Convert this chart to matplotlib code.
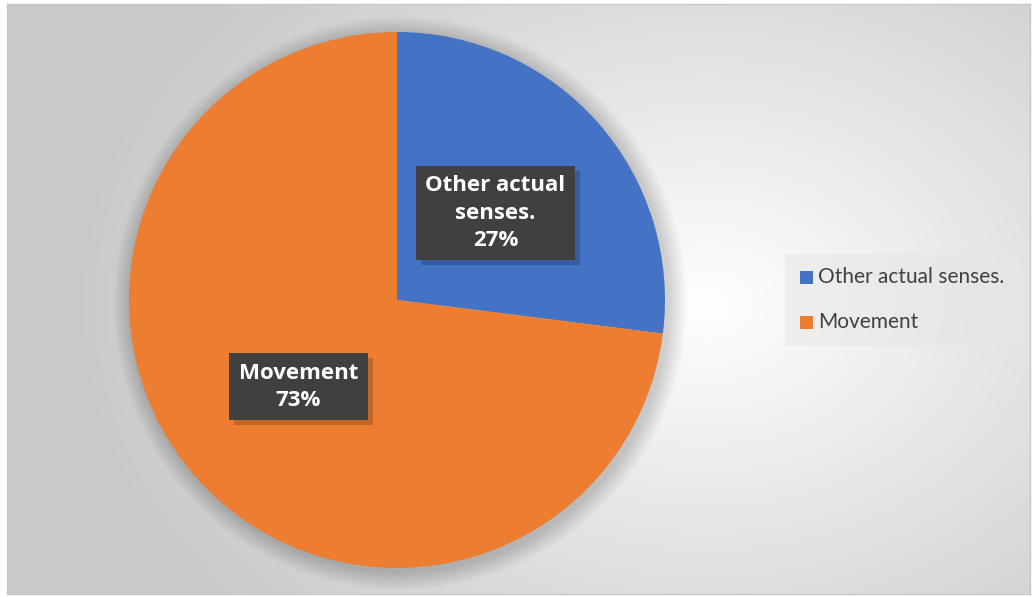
import numpy as np
import matplotlib.pyplot as plt
from matplotlib.patches import Circle, Rectangle

categories = ['Other actual senses.', 'Movement']
values = [27, 73]
colors = ['#4472C4', '#ED7D31']
label_texts = ['Other actual\nsenses.', 'Movement']

W, H = 1033, 597
fig = plt.figure(figsize=(W / 100, H / 100), dpi=100)
fig.patch.set_facecolor('white')

# background: radial gradient inside the chart frame
bg = fig.add_axes([7 / W, 3 / H, 1023 / W, 590 / H])
yy, xx = np.mgrid[0:590, 0:1023]
d = np.sqrt(((xx - 700) / 750.0) ** 2 + ((yy - 300) / 560.0) ** 2)
shade = np.clip(1.0 - 0.25 * d, 0.79, 1.0)
bg.imshow(np.dstack([shade] * 3), aspect='auto', extent=[0, 1, 0, 1])
bg.set_xticks([])
bg.set_yticks([])
for s in bg.spines.values():
    s.set_color('#c8c8c8')
    s.set_linewidth(1)

# pie
cx, cy, r = 397, 297, 268
ax = fig.add_axes([(cx - r) / W, (cy - r) / H, 2 * r / W, 2 * r / H])

# soft shadow around pie
for k in range(14):
    ax.add_patch(Circle((0.012, -0.012), 1.0 + 0.005 * (14 - k), color='black',
                        alpha=0.012, lw=0, zorder=0, clip_on=False))

labels = [f'{l}\n{v}%' for l, v in zip(label_texts, values)]
wedges, texts = ax.pie(values, colors=colors, startangle=90, counterclock=False,
                       radius=1.0, labels=labels, labeldistance=0.49,
                       wedgeprops=dict(linewidth=0))
ax.set_xlim(-1, 1)
ax.set_ylim(-1, 1)
ax.axis('off')
for t in texts:
    t.set_ha('center')
    t.set_va('center')
    t.set_color('white')
    t.set_fontsize(16)
    t.set_fontweight('bold')
    t.set_family('Open Sans')
    t.set_linespacing(1.4)
    t.set_multialignment('center')
    t.set_bbox(dict(boxstyle='square,pad=0.42', fc='#404040', ec='none'))
    t.set_zorder(5)

# drop shadows behind the label boxes
fig.canvas.draw()
for t in texts:
    bb = t.get_bbox_patch().get_window_extent()
    ax.add_patch(Rectangle((bb.x0 + 5, bb.y0 - 5), bb.width, bb.height,
                           transform=None, fc='black', ec='none', alpha=0.18,
                           zorder=4, clip_on=False))

# legend
leg_ax = fig.add_axes([785 / W, (H - 346) / H, 242 / W, 92 / H])
leg_ax.set_xlim(0, 242)
leg_ax.set_ylim(92, 0)
leg_ax.axis('off')
leg_ax.add_patch(Rectangle((0, 0), 242, 92, fc='#e6e6e6', ec='none', alpha=0.5))
for i, (c, col) in enumerate(zip(categories, colors)):
    y = 23 + i * 45
    leg_ax.add_patch(Rectangle((15, y - 6), 13, 13, fc=col, ec='none'))
    leg_ax.text(33, y, c, va='center', ha='left', fontsize=15, color='#404040',
                family='Lato')

fig.savefig('out.png', dpi=100)
